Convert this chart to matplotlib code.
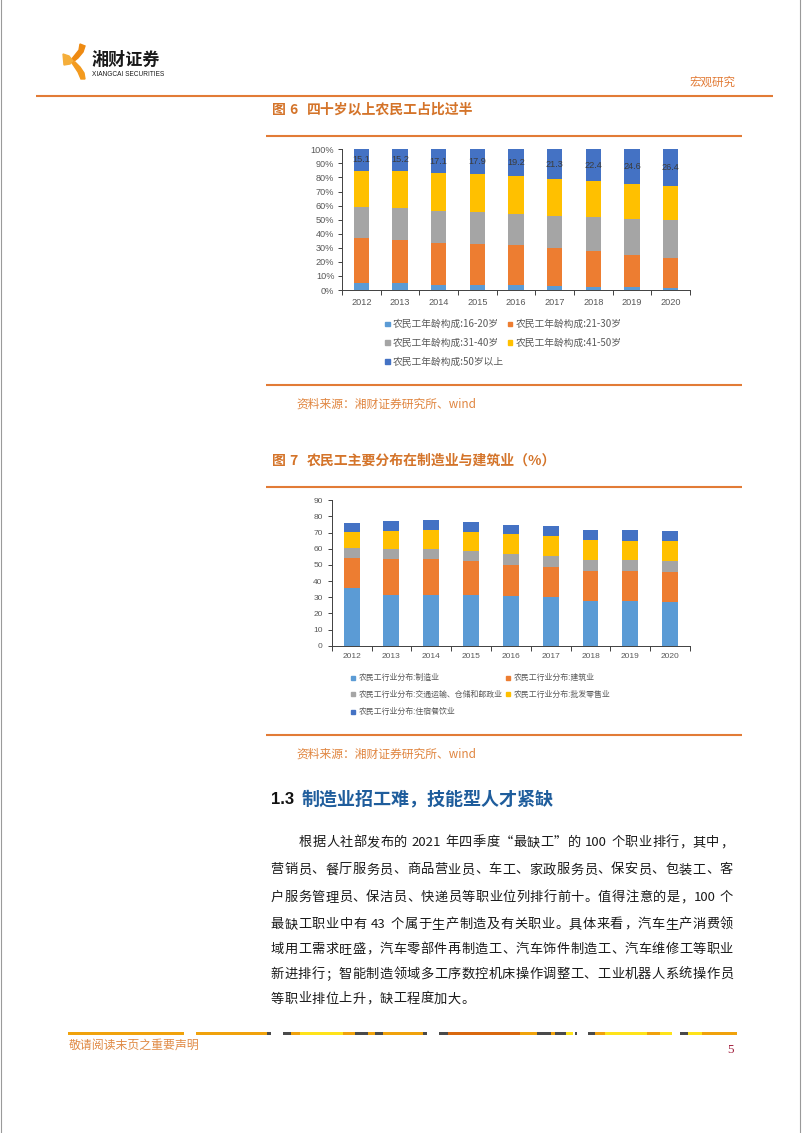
import re
import numpy as np
import matplotlib
matplotlib.use('Agg')
import matplotlib.pyplot as plt
from matplotlib.patches import Polygon, Rectangle
from matplotlib.ticker import PercentFormatter

W, H = 802, 1133
plt.rcParams['font.family'] = ['Noto Sans CJK SC', 'DejaVu Sans']
LAT = 'Liberation Sans'

# ---- data ----
years = ['2012', '2013', '2014', '2015', '2016', '2017', '2018', '2019', '2020']

# 图6 农民工年龄构成 (%)
age_16_20 = [4.9, 4.7, 3.5, 3.7, 3.3, 2.6, 2.4, 2.0, 1.6]
age_21_30 = [31.9, 30.8, 30.2, 29.2, 28.6, 27.3, 25.2, 23.1, 21.1]
age_31_40 = [22.5, 22.9, 22.8, 22.3, 22.0, 22.5, 24.5, 25.5, 26.7]
age_41_50 = [25.6, 26.4, 26.4, 26.9, 27.0, 26.3, 25.5, 24.8, 24.2]
age_50_up = [15.1, 15.2, 17.1, 17.9, 19.2, 21.3, 22.4, 24.6, 26.4]
age_labels = ['农民工年龄构成:16-20岁', '农民工年龄构成:21-30岁',
              '农民工年龄构成:31-40岁', '农民工年龄构成:41-50岁',
              '农民工年龄构成:50岁以上']

# 图7 农民工行业分布 (%)
ind_manu = [35.7, 31.4, 31.3, 31.1, 30.5, 29.9, 27.9, 27.4, 27.3]
ind_build = [18.4, 22.2, 22.3, 21.1, 19.7, 18.9, 18.6, 18.7, 18.3]
ind_trans = [6.6, 6.3, 6.5, 6.4, 6.4, 6.6, 6.6, 6.9, 6.9]
ind_retail = [9.8, 11.3, 11.4, 11.9, 12.3, 12.3, 12.1, 12.0, 12.2]
ind_hotel = [5.2, 5.9, 6.0, 5.8, 5.9, 6.2, 6.7, 6.9, 6.5]
ind_labels = ['农民工行业分布:制造业', '农民工行业分布:建筑业',
              '农民工行业分布:交通运输、仓储和邮政业', '农民工行业分布:批发零售业',
              '农民工行业分布:住宿餐饮业']

body_lines = [
    '根据人社部发布的 2021 年四季度“最缺工”的 100 个职业排行，其中，',
    '营销员、餐厅服务员、商品营业员、车工、家政服务员、保安员、包装工、客',
    '户服务管理员、保洁员、快递员等职业位列排行前十。值得注意的是，100 个',
    '最缺工职业中有 43 个属于生产制造及有关职业。具体来看，汽车生产消费领',
    '域用工需求旺盛，汽车零部件再制造工、汽车饰件制造工、汽车维修工等职业',
    '新进排行；智能制造领域多工序数控机床操作调整工、工业机器人系统操作员',
    '等职业排位上升，缺工程度加大。',
]

colors = ['#5B9BD5', '#ED7D31', '#A5A5A5', '#FFC000', '#4472C4']
ORANGE = '#E27B36'
TITLE = '#D4742A'
GRAYTXT = '#595959'

fig = plt.figure(figsize=(W / 100, H / 100), dpi=100)
bg = fig.add_axes([0, 0, 1, 1])
bg.set_xlim(0, W)
bg.set_ylim(H, 0)
bg.axis('off')
renderer = fig.canvas.get_renderer()


def box(l, t, r, b):
    return [l / W, 1 - b / H, (r - l) / W, (b - t) / H]


def hline(y, x0, x1, lw=1.5, c=ORANGE):
    bg.plot([x0, x1], [y, y], color=c, lw=lw, solid_capstyle='butt')


# page border
bg.plot([1, 1], [0, H], color='#9a9a9a', lw=0.8)
bg.plot([800, 800], [0, H], color='#9a9a9a', lw=0.8)

# ---- header ----
bg.add_patch(Polygon([(80, 44), (85, 46), (83, 52), (78, 58), (73, 62), (71, 60), (75, 55), (79, 50)],
                     closed=True, color='#EE8A12'))
bg.add_patch(Polygon([(63, 54), (69, 56), (73, 61), (70, 64), (64, 65)],
                     closed=True, color='#F5AE3A'))
bg.add_patch(Polygon([(72, 63), (75, 62), (80, 67), (84, 73), (85, 79), (81, 79), (78, 72)],
                     closed=True, color='#F39A1E'))
bg.text(92, 60, '湘财证券', fontsize=12.3, fontweight='bold', color='#1a1a1a',
        ha='left', va='center')
bg.text(92, 74.5, 'XIANGCAI SECURITIES', fontsize=4.7, color='#1a1a1a',
        family=LAT, ha='left', va='center')
bg.text(735, 82, '宏观研究', fontsize=8.3, color=ORANGE, ha='right', va='center')
hline(95.5, 36, 773)


def fig_title(y, num, text):
    bg.text(271.7, y, '图', fontsize=10, fontweight='bold', color=TITLE, ha='left', va='center')
    bg.text(293.3, y, num, fontsize=10, fontweight='bold', color=TITLE, ha='center', va='center')
    bg.text(306.7, y, text, fontsize=10, fontweight='bold', color=TITLE, ha='left', va='center')


def source(y):
    bg.text(296.7, y, '资料来源：湘财证券研究所、wind', fontsize=8.5, color='#E0853F',
            ha='left', va='center')


def legend(labels, xcols, yrows, fs, ms, gap):
    for i, (lab, c) in enumerate(zip(labels, colors)):
        r, k = divmod(i, 2)
        xm, y = xcols[k], yrows[r]
        bg.add_patch(Rectangle((xm - ms / 2, y - ms / 2), ms, ms, color=c))
        bg.text(xm + gap, y, lab, fontsize=fs, color=GRAYTXT, ha='left', va='center')


def stacked(ax, rows, fs):
    x = np.arange(len(years))
    bottom = np.zeros(len(years))
    conts = []
    for vals, c in zip(rows, colors):
        conts.append(ax.bar(x, vals, 0.4, bottom=bottom, color=c, zorder=2))
        bottom = bottom + vals
    ax.set_xlim(-0.5, len(years) - 0.5)
    ax.set_xticks(x, years)
    ax.set_xticks(np.arange(len(years) + 1) - 0.5, minor=True)
    ax.tick_params(axis='x', which='major', length=0, pad=6)
    ax.tick_params(axis='x', which='minor', length=3.5, width=0.7, color='#404040')
    ax.tick_params(axis='y', length=3, width=0.7, color='#404040', pad=2.5)
    ax.tick_params(labelsize=fs, labelcolor=GRAYTXT, labelfontfamily=LAT)
    for s in ['top', 'right']:
        ax.spines[s].set_visible(False)
    for s in ['left', 'bottom']:
        ax.spines[s].set_color('#404040')
        ax.spines[s].set_linewidth(0.7)
    ax.set_facecolor('none')
    return conts


# ---- 图6 ----
fig_title(110, '6', '四十岁以上农民工占比过半')
hline(135.7, 266, 742)
ax1 = fig.add_axes(box(342, 149.3, 690, 290))
age_rows = np.array([age_16_20, age_21_30, age_31_40, age_41_50, age_50_up])
shares = age_rows / age_rows.sum(axis=0)
conts = stacked(ax1, shares, 6.6)
ax1.set_ylim(0, 1)
ax1.set_yticks(np.arange(0, 1.01, 0.1))
ax1.yaxis.set_major_formatter(PercentFormatter(1, decimals=0))
ax1.bar_label(conts[-1], labels=[f'{v:.1f}' for v in age_50_up], label_type='center',
              fontsize=6.6, color='#3c3c3c', family=LAT)
legend(age_labels, [387.7, 510], [324, 342.7, 361.7], 7, 4.5, 5.3)
hline(385, 266, 742)
source(404)

# ---- 图7 ----
fig_title(460.7, '7', '农民工主要分布在制造业与建筑业（%）')
hline(486.7, 266, 742)
ax2 = fig.add_axes(box(331.7, 500.3, 690, 645.7))
ind_rows = np.array([ind_manu, ind_build, ind_trans, ind_retail, ind_hotel])
stacked(ax2, ind_rows, 6)
ax2.set_ylim(0, 90)
ax2.set_yticks(np.arange(0, 91, 10))
ax2.tick_params(axis='x', which='major', pad=5)
ax2.tick_params(axis='y', pad=3.5)
legend(ind_labels, [353.3, 508.3], [677.7, 694.3, 711.7], 5.7, 4, 5.5)
hline(735, 266, 742)
source(754)

# ---- section heading ----
bg.text(270.7, 799, '1.3', fontsize=12, fontweight='bold', family=LAT, color='#111111',
        ha='left', va='center')
bg.text(302, 799, '制造业招工难，技能型人才紧缺', fontsize=13, fontweight='bold',
        color='#1F5D9C', ha='left', va='center')

# ---- body text (justified lines) ----
BODY_FS = 9.5
fs_px = BODY_FS / 72 * 100


def place_line(line, x0, x1, y, gap=None):
    toks = re.findall(r'[A-Za-z0-9.%]+| |.', line)
    items = []
    for t in toks:
        if t == ' ':
            items.append((None, fs_px * 0.28))
        else:
            obj = bg.text(0, y, t, fontsize=BODY_FS, color='#1a1a1a', ha='left', va='center')
            w = obj.get_window_extent(renderer).width
            if t in '，、。；“”：':
                w = fs_px
            items.append((obj, w))
    total = sum(w for _, w in items)
    if gap is None:
        gap = (x1 - x0 - total) / (len(items) - 1)
    x = x0
    for obj, w in items:
        if obj is not None:
            obj.set_x(x)
        x += w + gap
    return gap


line_y = [842.7, 870, 897.7, 924.3, 949.5, 974.5, 999]
gaps = []
for i, line in enumerate(body_lines[:-1]):
    x0 = 299 if i == 0 else 270.7
    gaps.append(place_line(line, x0, 733, line_y[i]))
place_line(body_lines[-1], 270.7, 733, line_y[-1], gap=gaps[1])

# ---- footer ----
C_O, C_D, C_Y, C_R = '#F0A20C', '#4a4a4a', '#FFE31A', '#D9680E'
footer = [(67.7, 184, C_O), (195.7, 266.7, C_O), (266.7, 270.7, C_D),
          (282.7, 290.7, C_D), (290.7, 300, C_O), (300, 342.7, C_Y), (342.7, 355, C_O),
          (355, 368.3, C_D), (368.3, 375, C_O), (375, 383, C_D), (383, 423, C_O),
          (423, 427, C_D), (439, 448, C_D), (448, 520, C_R), (520, 537, C_O),
          (537, 550.7, C_D), (550.7, 555, C_O), (555, 566, C_D), (566, 573, C_Y),
          (575, 577, C_D), (587.7, 595, C_D), (595, 605, C_O), (605, 646.7, C_Y),
          (646.7, 660, C_O), (660, 671.7, C_Y), (680, 688, C_D), (688, 701.7, C_Y),
          (701.7, 737.3, C_O)]
for a, b, c in footer:
    bg.add_patch(Rectangle((a, 1032), b - a, 2.8, color=c, lw=0))
bg.text(69, 1045, '敬请阅读末页之重要声明', fontsize=8.6, color='#E08A45', ha='left', va='center')
bg.text(730, 1050, '5', fontsize=9.5, color='#A32240', family='Liberation Serif',
        ha='center', va='center')

fig.savefig('out.png', dpi=100)
